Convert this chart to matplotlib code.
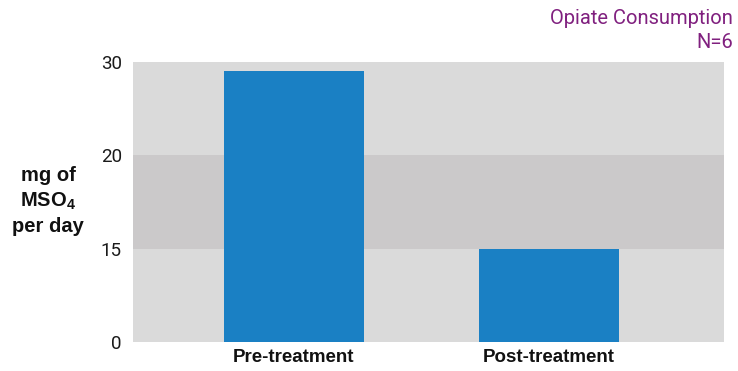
import numpy as np
import matplotlib
matplotlib.use("Agg")
import matplotlib.pyplot as plt

# opiate consumption, mg of MSO4 per day
groups = ["Pre-treatment", "Post-treatment"]
dose = [29, 15]

# uneven y axis: each labelled step gets the same height
tick_vals = [0, 15, 20, 30]
tick_pos = [0, 1, 2, 3]

def fwd(v):
    return np.interp(v, tick_vals, tick_pos, left=0, right=3)

def inv(p):
    return np.interp(p, tick_pos, tick_vals)

narrow = ["Roboto", "DejaVu Sans"]
bold = ["Liberation Sans", "DejaVu Sans"]

fig = plt.figure(figsize=(7.38, 3.71), dpi=100)
ax = fig.add_axes([0.1802, 0.0782, 0.8008, 0.7547])
ax.set_yscale("function", functions=(fwd, inv))

# grey bands behind the bars
ax.axhspan(0, 15, color="#dadada", lw=0, zorder=0)
ax.axhspan(15, 20, color="#cbc9ca", lw=0, zorder=0)
ax.axhspan(20, 30, color="#dadada", lw=0, zorder=0)

x = np.arange(len(groups))
ax.bar(x, dose, width=0.55, color="#1a80c4", zorder=2)

ax.set_xlim(-0.63, 1.686)
ax.set_ylim(0, 30)
ax.set_yticks(tick_vals)
ax.set_yticklabels([str(v) for v in tick_vals], family=narrow,
                   fontsize=13.5, color="#1a1a1a")
ax.set_xticks(x)
ax.set_xticklabels(groups, family=bold, fontweight="bold", fontsize=13.5, color="#111111")
ax.tick_params(axis="y", length=0, pad=8)
ax.tick_params(axis="x", length=0, pad=5)
for s in ax.spines.values():
    s.set_visible(False)

fig.text(0.065, 0.458, "mg of\nMSO$_\\mathregular{4}$\nper day", ha="center", va="center",
         family=bold, fontweight="bold", fontsize=14.5, linespacing=1.35, color="#111111")

fig.text(0.993, 0.975, "Opiate Consumption\nN=6", ha="right", va="top",
         family=narrow, fontsize=14.5, color="#80207f", linespacing=1.3)

fig.savefig("out.png", dpi=100)
